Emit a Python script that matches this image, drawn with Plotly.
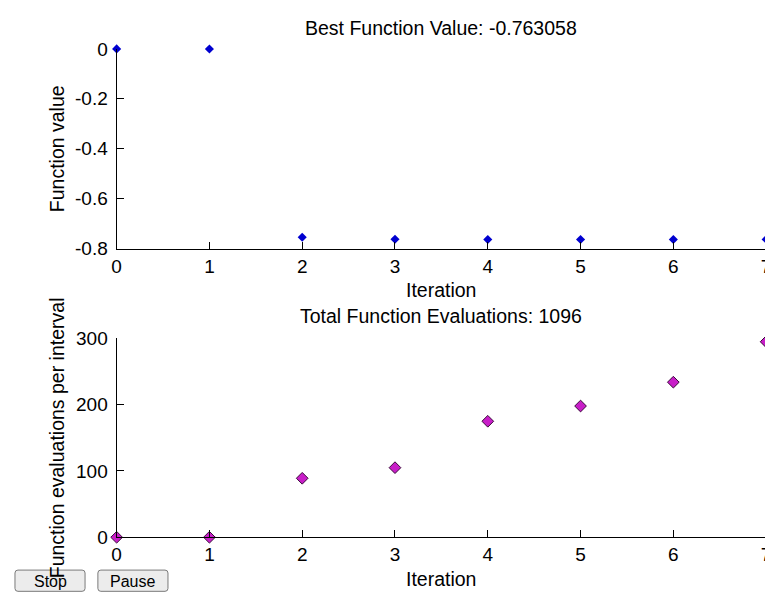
import plotly.graph_objects as go
from plotly.subplots import make_subplots

# ---- data ----
iterations = [0, 1, 2, 3, 4, 5, 6, 7]
best_values = [0.0, -0.0005, -0.754, -0.7625, -0.763, -0.763058, -0.763058, -0.763058]
evaluations = [0, 0, 89, 105, 175, 198, 234, 295]
top_yticks = [0, -0.2, -0.4, -0.6, -0.8]
top_yticktext = ["0", "-0.2", "-0.4", "-0.6", "-0.8"]
bottom_yticks = [0, 100, 200, 300]
best_title = "Best Function Value: -0.763058"
total_title = "Total Function Evaluations: 1096"

W, H = 773, 603
OFF = 8          # page body margin compensation
FONT = "Liberation Sans"
FS = 19.5
TFS = 19


def px(x):
    return (x - OFF) / W


def py(y):
    return 1 - (y - OFF) / H


fig = make_subplots(rows=2, cols=1)

fig.add_trace(go.Scatter(
    x=iterations, y=best_values, mode="markers",
    marker=dict(symbol="diamond", size=7, color="#0000d0",
                line=dict(width=0)),
    cliponaxis=False, showlegend=False), row=1, col=1)

fig.add_trace(go.Scatter(
    x=iterations, y=evaluations, mode="markers",
    marker=dict(symbol="diamond", size=9, color="#c81ec8",
                line=dict(width=1, color="#3a0a3a")),
    cliponaxis=False, showlegend=False), row=2, col=1)

axis_common = dict(
    showline=True, linecolor="black", linewidth=1.2,
    ticks="inside", ticklen=7, tickcolor="black", tickwidth=1,
    showgrid=False, zeroline=False, mirror=False,
    tickfont=dict(family=FONT, size=TFS, color="black"),
)

xdom = [px(113), px(771)]
fig.update_layout(
    width=W, height=H,
    margin=dict(l=0, r=0, t=0, b=0),
    paper_bgcolor="white", plot_bgcolor="white",
    font=dict(family=FONT, size=FS, color="black"),
    xaxis=dict(domain=xdom, range=[0, 7], tickvals=iterations, anchor="y", **axis_common),
    yaxis=dict(domain=[py(247), py(40)], range=[-0.8, 0], tickvals=top_yticks,
               ticktext=top_yticktext, anchor="x", ticklabelstandoff=4, **axis_common),
    xaxis2=dict(domain=xdom, range=[0, 7], tickvals=iterations, anchor="y2", **axis_common),
    yaxis2=dict(domain=[py(546), py(340)], range=[0, 300], tickvals=bottom_yticks,
                anchor="x2", ticklabelstandoff=4, **axis_common),
)

cx = px(442)
ann = [
    dict(text=best_title, x=cx, y=py(18)),
    dict(text="Iteration", x=cx, y=py(290)),
    dict(text=total_title, x=cx, y=py(317)),
    dict(text="Iteration", x=cx, y=py(589)),
    dict(text="Function value", x=px(52), y=py(143.5), textangle=-90),
    dict(text="Function evaluations per interval", x=px(52), y=py(443), textangle=-90),
]
for a in ann:
    fig.add_annotation(xref="paper", yref="paper", showarrow=False,
                       xanchor="center", yanchor="middle",
                       font=dict(family=FONT, size=FS, color="black"), **a)


# ---- Stop / Pause buttons (UI chrome) ----
def rounded(x0, y0, x1, y1, r=3):
    X0, X1 = px(x0), px(x1)
    Y0, Y1 = py(y1), py(y0)
    rx, ry = r / W, r / H
    return (f"M{X0+rx},{Y0} L{X1-rx},{Y0} Q{X1},{Y0} {X1},{Y0+ry} "
            f"L{X1},{Y1-ry} Q{X1},{Y1} {X1-rx},{Y1} L{X0+rx},{Y1} "
            f"Q{X0},{Y1} {X0},{Y1-ry} L{X0},{Y0+ry} Q{X0},{Y0} {X0+rx},{Y0} Z")


for (x0, x1, label) in [(10, 81, "Stop"), (94, 165, "Pause")]:
    fig.add_shape(type="path", xref="paper", yref="paper",
                  path=rounded(x0, 580, x1, 602),
                  fillcolor="#ececec", line=dict(color="#7a7a7a", width=1),
                  layer="above")
    fig.add_annotation(xref="paper", yref="paper", showarrow=False,
                       x=px((x0 + x1) / 2), y=py(592), xanchor="center", yanchor="middle",
                       text=label, font=dict(family=FONT, size=16, color="black"))

fig.write_html("out.html")
